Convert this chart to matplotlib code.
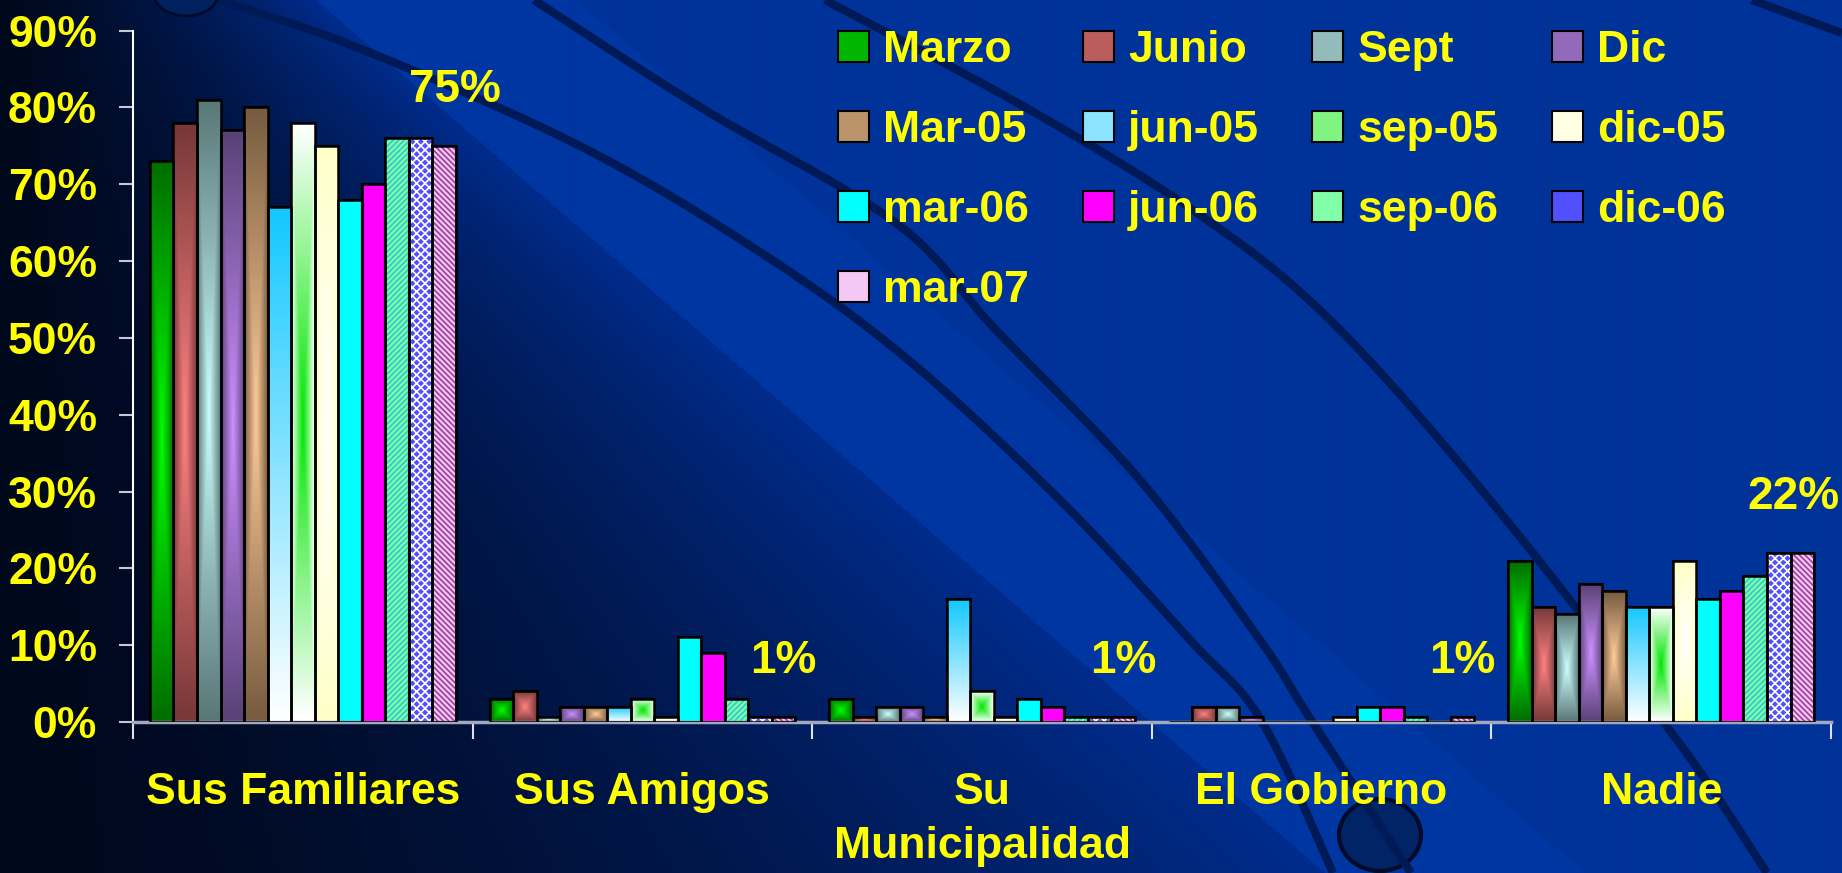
import numpy as np
import matplotlib
matplotlib.use('Agg')
import matplotlib.pyplot as plt
from matplotlib.colors import LinearSegmentedColormap, to_rgb
from matplotlib.patches import Ellipse

# 데이터 (%), 순서: Sus Familiares, Sus Amigos, Su Municipalidad, El Gobierno, Nadie
categories = ['Sus Familiares', 'Sus Amigos', 'Su\nMunicipalidad', 'El Gobierno', 'Nadie']
series = ['Marzo', 'Junio', 'Sept', 'Dic', 'Mar-05', 'jun-05', 'sep-05', 'dic-05',
          'mar-06', 'jun-06', 'sep-06', 'dic-06', 'mar-07']

marzo = [73, 3, 3, 0, 21]
junio = [78, 4, 0.7, 2, 15]
sept = [81, 0.7, 2, 2, 14]
dic = [77, 2, 2, 0.7, 18]
mar05 = [80, 2, 0.7, 0, 17]
jun05 = [67, 2, 16, 0, 15]
sep05 = [78, 3, 4, 0, 15]
dic05 = [75, 0.7, 0.7, 0.7, 21]
mar06 = [68, 11, 3, 2, 16]
jun06 = [70, 9, 2, 2, 17]
sep06 = [76, 3, 0.7, 0.7, 19]
dic06 = [76, 0.7, 0.7, 0, 22]
mar07 = [75, 0.7, 0.7, 0.7, 22]
values = [marzo, junio, sept, dic, mar05, jun05, sep05, dic05,
          mar06, jun06, sep06, dic06, mar07]

# 마지막 시리즈(mar-07) 라벨
top_labels = ['75%', '1%', '1%', '1%', '22%']

y_ticks = [0, 10, 20, 30, 40, 50, 60, 70, 80, 90]
y_ticklabels = ['0%', '10%', '20%', '30%', '40%', '50%', '60%', '70%', '80%', '90%']

# 시리즈별 채우기 스타일: (종류, 색1, 색2)
styles = [
    ('center', '#00ff00', '#006e00'),
    ('center', '#ff8282', '#773838'),
    ('center', '#ccffff', '#5a7878'),
    ('center', '#cc90ff', '#5a4278'),
    ('center', '#ffcc99', '#785c40'),
    ('vert', '#14c8ff', '#ffffff'),
    ('center', '#00e600', '#ffffff'),
    ('center', '#ffffff', '#ffffc8'),
    ('solid', '#00ffff', None),
    ('solid', '#ff00ff', None),
    ('hatch', '#80ffa8', '#30c8d0'),
    ('hatch', '#5050ff', '#ffffff'),
    ('hatch', '#f4c8f4', '#a03c9c'),
]
hatches = {10: '//////', 11: 'xxxx', 12: '\\\\\\\\\\\\'}

yellow = '#ffff00'
plt.rcParams['font.family'] = ['Liberation Sans', 'DejaVu Sans']
plt.rcParams['font.weight'] = 'bold'
plt.rcParams['hatch.linewidth'] = 1.2

W, H = 1842, 873
fig = plt.figure(figsize=(W / 100, H / 100), dpi=100)

# 배경 (그라데이션 + 장식 곡선)
bg = fig.add_axes([0, 0, 1, 1])
bg.set_zorder(0)
yy, xx = np.mgrid[0:H, 0:W]
edge = 316 + 1.155 * yy
t = np.clip(xx / edge, 0, 1) ** 1.4
c_left = np.array(to_rgb('#00081c'))
c_mid = np.array(to_rgb('#002c8c'))
c_right = np.array(to_rgb('#0036a2'))
img = c_left + (c_mid - c_left) * t[..., None]
img[xx > edge] = c_right
right_far = xx > (edge + 260)
img[right_far] = np.array(to_rgb('#003399'))
bg.imshow(img, extent=(0, W, H, 0), aspect='auto', interpolation='bilinear')


def smooth(pts, n=25):
    p = np.array(pts, float)
    p = np.vstack([p[0], p, p[-1]])
    out = []
    s = np.linspace(0, 1, n)[:, None]
    for i in range(1, len(p) - 2):
        p0, p1, p2, p3 = p[i - 1], p[i], p[i + 1], p[i + 2]
        out.append(0.5 * (2 * p1 + (-p0 + p2) * s + (2 * p0 - 5 * p1 + 4 * p2 - p3) * s ** 2
                          + (-p0 + 3 * p1 - 3 * p2 + p3) * s ** 3))
    return np.vstack(out)


curves = [
    [(218, 0), (356, 47), (574, 143), (746, 243), (900, 353), (1060, 500), (1190, 640), (1261, 720), (1333, 873)],
    [(534, 0), (700, 107), (896, 223), (996, 330), (1140, 480), (1260, 640), (1311, 720), (1411, 873)],
    [(825, 0), (1030, 110), (1200, 215), (1330, 320), (1490, 500), (1677, 740), (1767, 873)],
    [(1752, 0), (1842, 33)],
]
for c in curves:
    cc = smooth(c)
    bg.plot(cc[:, 0], cc[:, 1], color='#001a58', lw=6, solid_capstyle='butt')
bg.add_patch(Ellipse((186, -6), 64, 44, facecolor='#00205e', edgecolor='#000a2a', lw=2))
bg.add_patch(Ellipse((1380, 835), 82, 72, facecolor='#002466', edgecolor='#000a2a', lw=3))
bg.set_xlim(0, W)
bg.set_ylim(H, 0)
bg.axis('off')

# 메인 차트
ax = fig.add_axes([133 / W, 1 - 722 / H, (1831 - 133) / W, (722 - 30.6) / H])
ax.set_zorder(1)
ax.patch.set_alpha(0)

n = len(series)
group = 0.9
w = group / n
x = np.arange(len(categories))


def fill_bar(bar, kind, c1, c2):
    bx, by = bar.get_x(), bar.get_y()
    bw, bh = bar.get_width(), bar.get_height()
    if bh <= 0:
        return
    u = np.linspace(-1, 1, 64)
    if kind == 'center':
        U, V = np.meshgrid(u, u)
        g = np.maximum(np.abs(U), np.abs(V))
    else:
        g = np.tile(np.linspace(0, 1, 64)[:, None], (1, 64))
    cmap = LinearSegmentedColormap.from_list('g', [c1, c2])
    im = ax.imshow(g, cmap=cmap, vmin=0, vmax=1, extent=(bx, bx + bw, by, by + bh),
                   origin='upper', aspect='auto', interpolation='bilinear', zorder=2.5)
    im.set_clip_path(bar)


handles = []
for i, (name, vals) in enumerate(zip(series, values)):
    kind, c1, c2 = styles[i]
    pos = x - group / 2 + w * (i + 0.5)
    if kind in ('center', 'vert'):
        face = LinearSegmentedColormap.from_list('m', [c1, c2])(0.5)
    else:
        face = c1
    bars = ax.bar(pos, vals, w, color=face, edgecolor='black', linewidth=1.5, label=name, zorder=2)
    handles.append(bars)
    if kind in ('center', 'vert'):
        for b in bars:
            fill_bar(b, kind, c1, c2)
    if kind == 'hatch':
        ax.bar(pos, vals, w, facecolor='none', edgecolor=c2, linewidth=0, hatch=hatches[i], zorder=3)
    # 테두리
    ax.bar(pos, vals, w, facecolor='none', edgecolor='black', linewidth=1.8, zorder=4)

# 마지막 시리즈 값 라벨
last_pos = x - group / 2 + w * (n - 0.5)
for k, (xp, v, txt) in enumerate(zip(last_pos, mar07, top_labels)):
    dx = 8 if k == 0 else (-6 if k == len(categories) - 1 else 0)
    ax.annotate(txt, (xp, v), xytext=(dx, 40), textcoords='offset points', ha='center', va='center',
                color=yellow, fontsize=33, fontweight='bold', annotation_clip=False)

ax.set_xlim(-0.5, len(categories) - 0.5)
ax.set_ylim(0, 90)
ax.set_yticks(y_ticks)
ax.set_yticklabels(y_ticklabels)
ax.set_xticks(x)
ax.set_xticklabels(categories)
ax.set_xticks(np.arange(len(categories) + 1) - 0.5, minor=True)
ax.tick_params(axis='y', colors='#c8c8d4', labelcolor=yellow, labelsize=32, length=10, width=1.5, pad=16)
ax.tick_params(axis='x', which='major', length=0, labelcolor=yellow, labelsize=32, pad=36)
ax.tick_params(axis='x', which='minor', length=12, width=1.5, color='#e0e0e8')
for lbl in ax.get_xticklabels():
    lbl.set_linespacing(1.4)
for s in ['top', 'right']:
    ax.spines[s].set_visible(False)
ax.spines['left'].set_color('white')
ax.spines['left'].set_linewidth(1.5)
ax.spines['bottom'].set_color('#a4a8bc')
ax.spines['bottom'].set_linewidth(2.5)

# 범례 (행 우선 순서)
order = [0, 4, 8, 12, 1, 5, 9, 2, 6, 10, 3, 7, 11]
leg = ax.legend([handles[k] for k in order], [series[k] for k in order], ncol=4,
                loc='upper left', bbox_to_anchor=(838 / W, 1 - 30 / H), bbox_transform=fig.transFigure,
                frameon=False, fontsize=32, handlelength=0.7, handleheight=0.68, handletextpad=0.32,
                labelspacing=0.88, columnspacing=1.2, borderpad=0, borderaxespad=0)
for txt in leg.get_texts():
    txt.set_color(yellow)
    txt.set_fontweight('bold')

fig.savefig('out.png', dpi=100)
